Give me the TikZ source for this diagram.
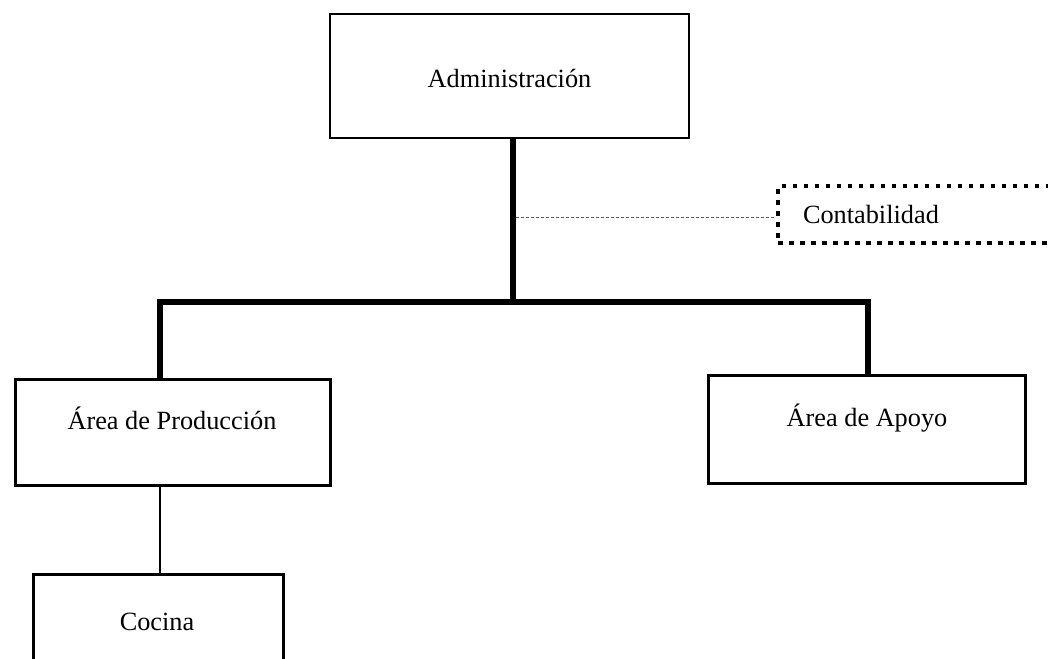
\documentclass[tikz,border=0pt]{standalone}
\usepackage{fontspec}
\setmainfont{Liberation Serif}
\begin{document}
\begin{tikzpicture}[x=1pt,y=-1pt,
  lbl/.style={font=\fontsize{26.3}{30}\selectfont, inner sep=0pt},
  unitbox/.style={draw, rectangle, line width=3pt, inner sep=0pt},
  trunk/.style={line width=5.5pt},
  branch/.style={line width=1.5pt},
  staff/.style={line width=1pt, draw=black!65, dash pattern=on 3pt off 2pt},
  staffbox/.style={draw, rectangle, line width=4pt, dash pattern=on 4.5pt off 6.5pt,
    inner xsep=25pt, inner ysep=0pt, text width=272pt, align=left,
    minimum height=57pt, font=\fontsize{26.3}{30}\selectfont}]
  \useasboundingbox (0,0) rectangle (1048,658);
  \clip (0,0) rectangle (1048,658);

  % units of the organisation
  \node[unitbox, line width=2pt, minimum width=359pt, minimum height=124pt] (admin) at (509.5,76) {};
  \node[lbl] (tadmin) at (509.5,78) {Administración};

  \node[staffbox] (conta) at (939,214.5) {Contabilidad};

  \node[unitbox, minimum width=315pt, minimum height=106pt] (prod) at (172.5,432) {};
  \node[lbl] (tprod) at (172,418) {Área de Producción};

  \node[unitbox, minimum width=317pt, minimum height=108pt] (apoyo) at (866.5,429) {};
  \node[lbl] (tapoyo) at (867,418) {Área de Apoyo};

  \node[unitbox, minimum width=250pt, minimum height=126pt] (cocina) at (158,637) {};
  \node[lbl] (tcocina) at (157,622) {Cocina};

  % reporting lines
  \coordinate (hub) at (513,302);
  \coordinate (jl) at (160,302);
  \coordinate (jr) at (868,302);
  \coordinate (dsrc) at (516,217);

  \draw[trunk] (admin.south -| hub) -- (hub);
  \draw[trunk] (prod.north -| jl) -- (jl) -- (jr) -- (apoyo.north -| jr);
  \draw[branch] (prod.south -| jl) -- (cocina.north -| jl);
  \draw[staff] (dsrc) -- (conta.west |- dsrc);
\end{tikzpicture}
\end{document}
